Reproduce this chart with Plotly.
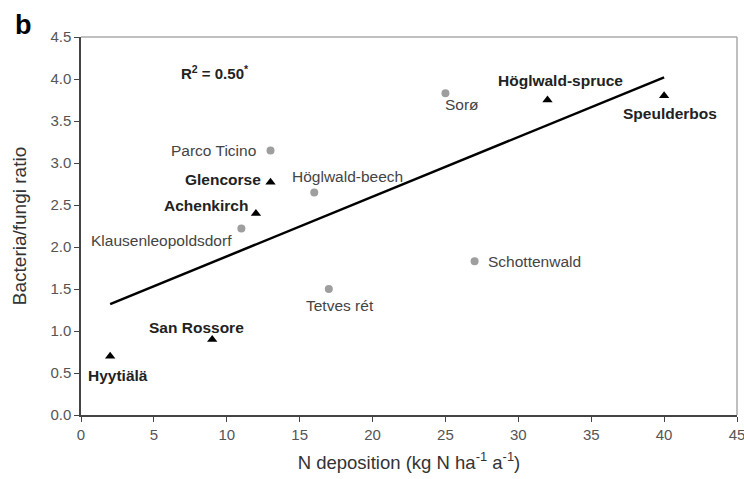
import plotly.graph_objects as go

# Triangle sites (bold labels)
tri_sites = ["Hyytiälä", "San Rossore", "Achenkirch", "Glencorse", "Höglwald-spruce", "Speulderbos"]
tri_x = [2, 9, 12, 13, 32, 40]
tri_y = [0.70, 0.90, 2.40, 2.77, 3.75, 3.80]

# Circle sites (grey)
circ_sites = ["Parco Ticino", "Klausenleopoldsdorf", "Höglwald-beech", "Sorø", "Tetves rét", "Schottenwald"]
circ_x = [13, 11, 16, 25, 17, 27]
circ_y = [3.15, 2.22, 2.65, 3.83, 1.50, 1.83]

# Regression line end points
fit_x = [2, 40]
fit_y = [1.32, 4.02]

x_ticks = [0, 5, 10, 15, 20, 25, 30, 35, 40, 45]
y_ticks = [0.0, 0.5, 1.0, 1.5, 2.0, 2.5, 3.0, 3.5, 4.0, 4.5]

# label placement (style): (xanchor, xshift, yshift)
tri_lab = {
    "Hyytiälä": ("center", 8, -19),
    "San Rossore": ("center", -16, 12),
    "Achenkirch": ("right", -6, 8),
    "Glencorse": ("right", -8, 3),
    "Höglwald-spruce": ("center", 13, 20),
    "Speulderbos": ("center", 6, -18),
}
circ_lab = {
    "Parco Ticino": ("right", -13, 0),
    "Klausenleopoldsdorf": ("right", -7, -12),
    "Höglwald-beech": ("left", -24, 16),
    "Sorø": ("left", -2, -11),
    "Tetves rét": ("center", 11, -16),
    "Schottenwald": ("left", 11, 0),
}

FONT = "Liberation Sans, Arial, sans-serif"
LAB = 15.5

fig = go.Figure()
fig.add_trace(go.Scatter(x=fit_x, y=fit_y, mode="lines",
                         line=dict(color="black", width=2.5), showlegend=False))
fig.add_trace(go.Scatter(x=circ_x, y=circ_y, mode="markers",
                         marker=dict(symbol="circle", size=8, color="#9e9e9e"), showlegend=False))
fig.add_trace(go.Scatter(x=tri_x, y=tri_y, mode="markers",
                         marker=dict(symbol="triangle-up", size=9, color="black"), showlegend=False))

for name, x, y in zip(tri_sites, tri_x, tri_y):
    xa, xs, ys = tri_lab[name]
    fig.add_annotation(x=x, y=y, text=f"<b>{name}</b>", showarrow=False,
                       xanchor=xa, yanchor="middle", xshift=xs, yshift=ys,
                       font=dict(family=FONT, size=LAB, color="#222"))
for name, x, y in zip(circ_sites, circ_x, circ_y):
    xa, xs, ys = circ_lab[name]
    fig.add_annotation(x=x, y=y, text=name, showarrow=False,
                       xanchor=xa, yanchor="middle", xshift=xs, yshift=ys,
                       font=dict(family=FONT, size=LAB, color="#444"))

fig.add_annotation(x=0.149, y=0.905, xref="paper", yref="paper",
                   text="<b>R<sup>2</sup> = 0.50<sup>*</sup></b>", showarrow=False,
                   xanchor="left", yanchor="middle",
                   font=dict(family=FONT, size=15, color="#222"))
fig.add_annotation(x=-0.103, y=1.078, xref="paper", yref="paper", text="<b>b</b>",
                   showarrow=False, xanchor="left", yanchor="top",
                   font=dict(family=FONT, size=27, color="black"))

fig.update_layout(
    width=744, height=479,
    margin=dict(l=81, r=7, t=37, b=64),
    paper_bgcolor="white", plot_bgcolor="white",
    font=dict(family=FONT, size=15, color="#444"),
    xaxis=dict(range=[0, 45], tickvals=x_ticks, ticktext=[str(v) for v in x_ticks],
               showgrid=False, zeroline=False, ticks="outside", ticklen=5,
               tickcolor="#444", showline=True, linecolor="#444", linewidth=1.5,
               mirror=False, tickfont=dict(size=15, color="#555"), automargin=False,
               ticklabeloverflow="allow",
               title=dict(text="N deposition (kg N ha<sup>-1</sup> a<sup>-1</sup>)",
                          font=dict(size=18.5, color="#333"), standoff=14)),
    yaxis=dict(range=[0, 4.5], tickvals=y_ticks, ticktext=[f"{v:.1f}" for v in y_ticks],
               showgrid=False, zeroline=False, ticks="outside", ticklen=5,
               tickcolor="#444", showline=True, linecolor="#444", linewidth=1.5,
               tickfont=dict(size=15, color="#555"), automargin=False,
               title=dict(text="Bacteria/fungi ratio", font=dict(size=19, color="#333"),
                          standoff=19)),
    shapes=[dict(type="line", xref="paper", yref="paper", x0=0, x1=1, y0=1, y1=1,
                 line=dict(color="#aaa", width=1.5)),
            dict(type="line", xref="paper", yref="paper", x0=1, x1=1, y0=0, y1=1,
                 line=dict(color="#aaa", width=1.5))],
)

fig.write_html("out.html", config={"displayModeBar": False},
               post_script="document.body.style.margin='0px';document.body.style.overflow='hidden';")
